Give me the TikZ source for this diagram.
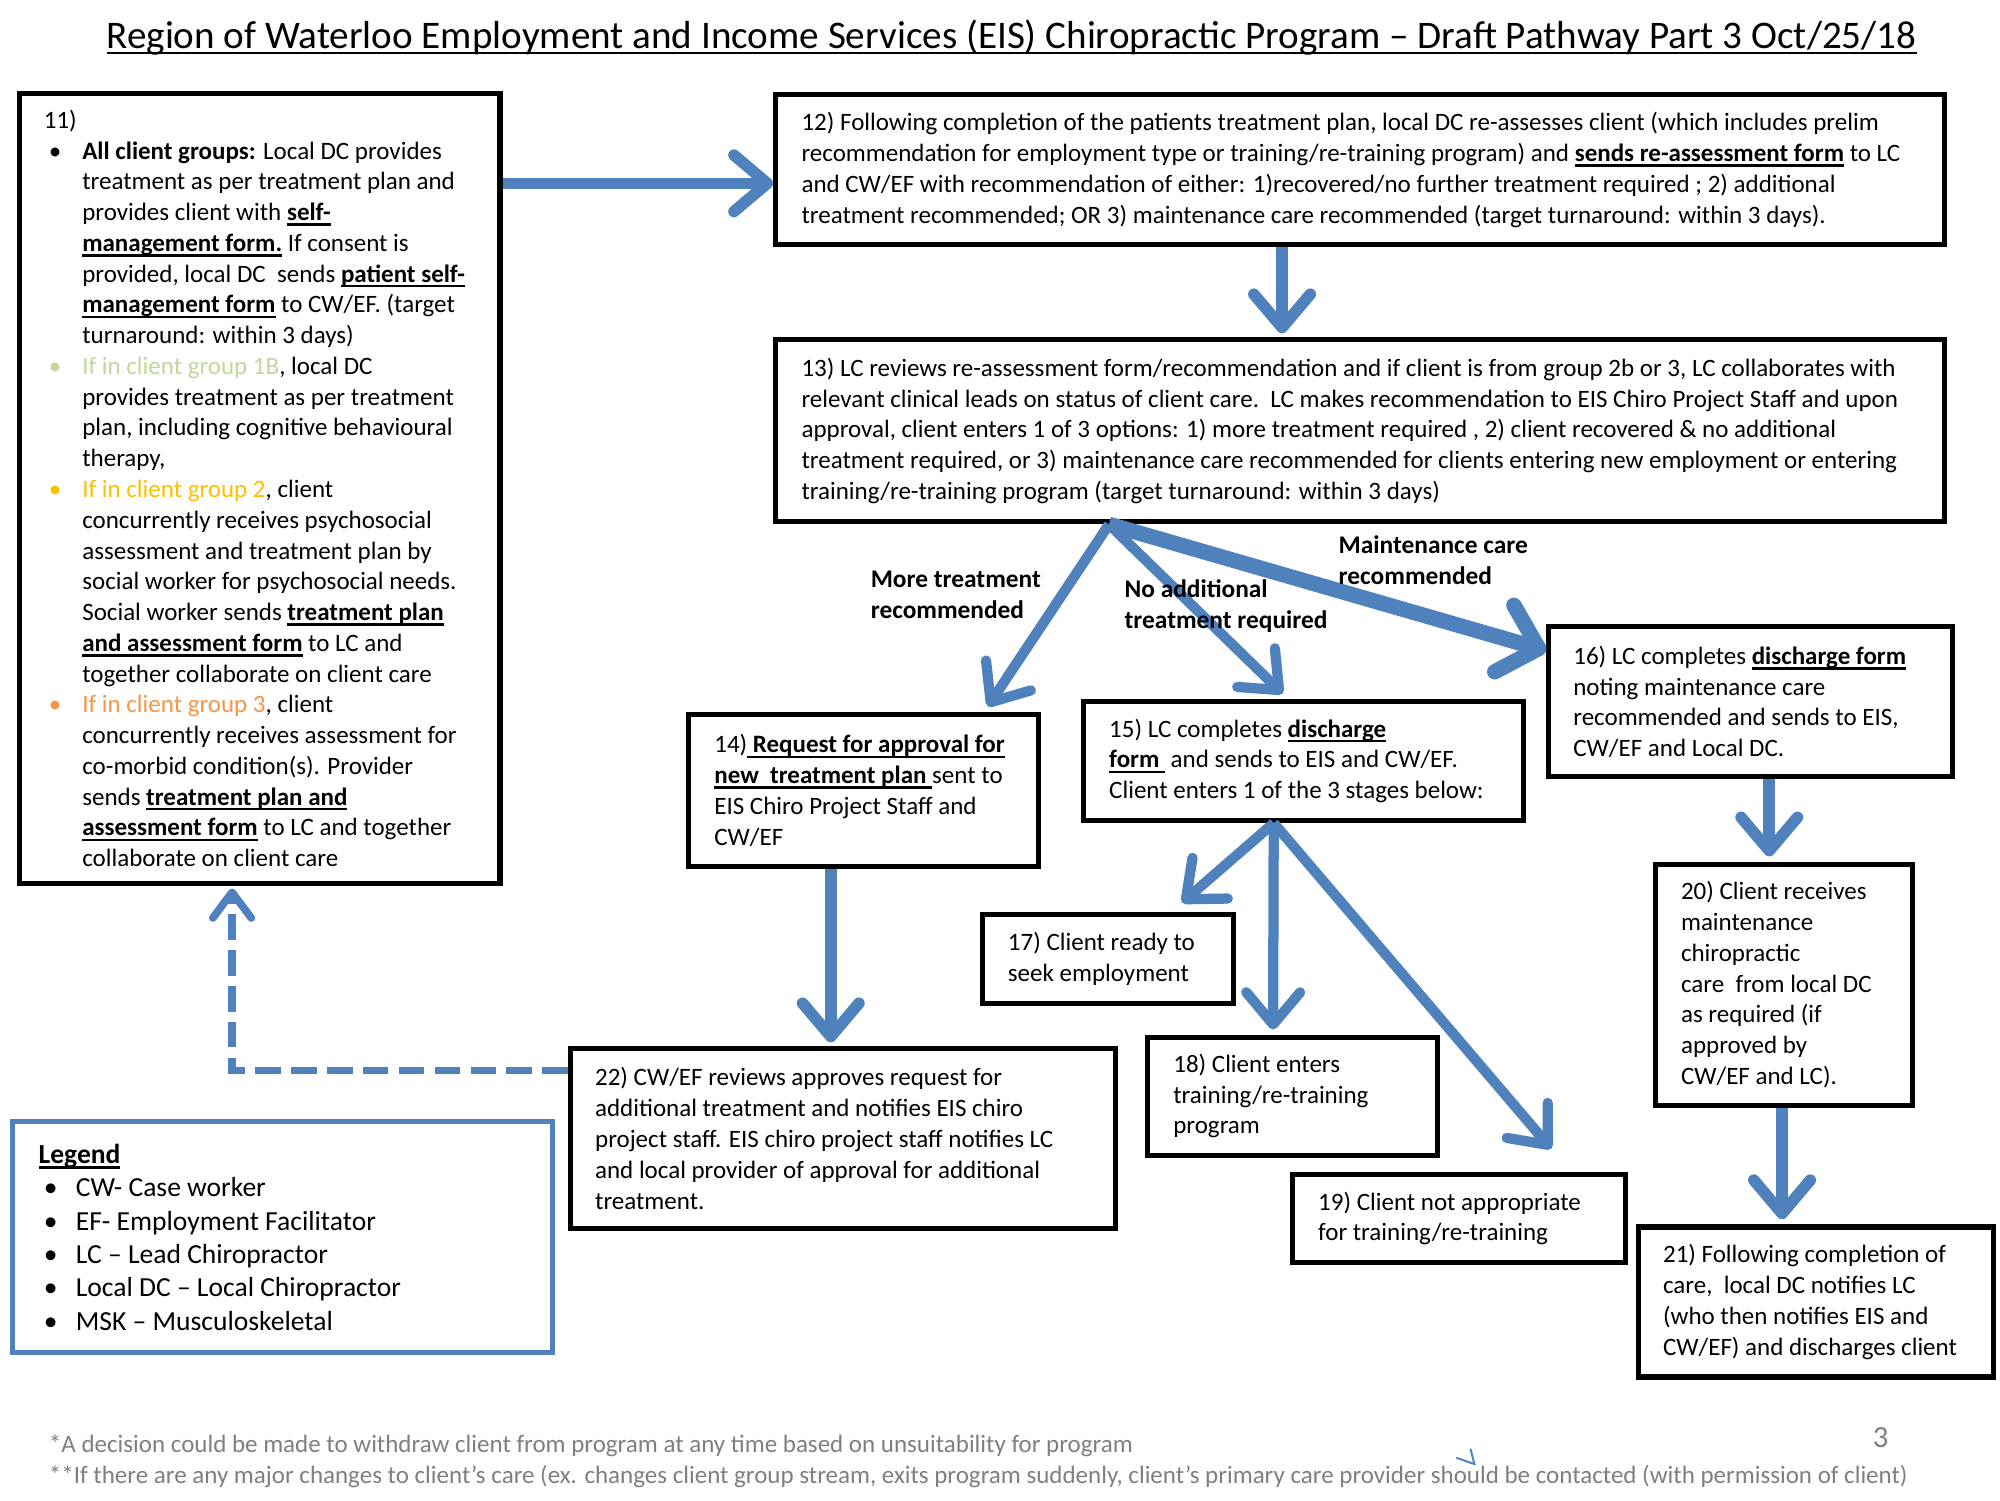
\documentclass[tikz,border=0pt]{standalone}
\usepackage{fontspec}
\setmainfont{Carlito}
\usetikzlibrary{arrows.meta}
\definecolor{ablue}{HTML}{4F81BD}
\definecolor{gA}{HTML}{C3D69B}
\definecolor{gB}{HTML}{FFC000}
\definecolor{gC}{HTML}{F79646}
\definecolor{foot}{HTML}{7F7F7F}
\newcommand{\myul}[1]{\setbox0\hbox{#1}\rlap{\rule[-4pt]{\wd0}{1.8pt}}\box0\relax}
\newcommand{\ub}[1]{\myul{\textbf{#1}}}
\newcommand{\bu}[1]{\hspace*{4pt}\makebox[26pt][l]{\textcolor{#1}{\textbullet}}}
\newcommand{\ind}{\hspace*{30pt}}
\tikzset{
  box/.style={draw=black, line width=4pt, inner sep=0pt},
  txt/.style={align=left, inner sep=0pt, anchor=west, font=\fontsize{19.5}{24}\selectfont},
  lbl/.style={align=left, inner sep=0pt, anchor=west, font=\fontsize{19.8}{24}\selectfont\bfseries},
  arr/.style={draw=ablue, line width=9pt, -{Straight Barb[round,length=26pt,width=44pt]}},
  arrthin/.style={draw=ablue, line width=8pt, -{Straight Barb[round,length=25pt,width=42pt]}},
  arrthick/.style={draw=ablue, line width=12pt, -{Straight Barb[round,length=28pt,width=54pt]}},
  dasharr/.style={draw=ablue, line width=6pt, dash pattern=on 20pt off 8pt, -{Straight Barb[round,length=20pt,width=30pt]}},
}
\begin{document}
\begin{tikzpicture}[x=1pt,y=-1pt]
\useasboundingbox[fill=white] (0,0) rectangle (1560,1170);

% title
\node[inner sep=0pt, anchor=base, font=\fontsize{30.5}{36}\selectfont] (title) at (789,38) {\myul{Region of Waterloo Employment and Income Services (EIS) Chiropractic Program -- Draft Pathway Part 3 Oct/25/18}};

% boxes
\node[box, minimum width=375pt, minimum height=616pt] (b11) at (202.5,381) {};
\node[box, minimum width=912pt, minimum height=117pt] (b12) at (1061,132.5) {};
\node[box, minimum width=912pt, minimum height=142pt] (b13) at (1061,336) {};
\node[box, minimum width=273pt, minimum height=119pt] (b14) at (673.5,616.5) {};
\node[box, minimum width=343pt, minimum height=93pt] (b15) at (1016.5,593.5) {};
\node[box, minimum width=315pt, minimum height=117pt] (b16) at (1365.5,547.5) {};
\node[box, minimum width=196pt, minimum height=70pt] (b17) at (864,748) {};
\node[box, minimum width=226pt, minimum height=92pt] (b18) at (1008,855) {};
\node[box, minimum width=260pt, minimum height=69pt] (b19) at (1138,950.5) {};
\node[box, minimum width=201pt, minimum height=188pt] (b20) at (1391.5,768) {};
\node[box, minimum width=277pt, minimum height=117pt] (b21) at (1416.5,1015.5) {};
\node[box, minimum width=425pt, minimum height=140pt] (b22) at (657.5,888) {};
\node[box, draw=ablue, minimum width=421pt, minimum height=180pt] (leg) at (220.5,965) {};

% texts
\node[txt] (t11) at ([xshift=21pt]b11.west) {11)\\
\bu{black}\textbf{All client groups:} Local DC provides\\
\ind treatment as per treatment plan and\\
\ind provides client with \ub{self-}\\
\ind \ub{management form.} If consent is\\
\ind provided, local DC\ \ sends \ub{patient self-}\\
\ind \ub{management form} to CW/EF. (target\\
\ind turnaround: within 3 days)\\
\bu{gA}\textcolor{gA}{If in client group 1B}, local DC\\
\ind provides treatment as per treatment\\
\ind plan, including cognitive behavioural\\
\ind therapy,\\
\bu{gB}\textcolor{gB}{If in client group 2}, client\\
\ind concurrently receives psychosocial\\
\ind assessment and treatment plan by\\
\ind social worker for psychosocial needs.\\
\ind Social worker sends \ub{treatment plan}\\
\ind \ub{and assessment form} to LC and\\
\ind together collaborate on client care\\
\bu{gC}\textcolor{gC}{If in client group 3}, client\\
\ind concurrently receives assessment for\\
\ind co-morbid condition(s). Provider\\
\ind sends \ub{treatment plan and}\\
\ind \ub{assessment form} to LC and together\\
\ind collaborate on client care};

\node[txt] (t12) at ([xshift=22pt]b12.west) {12) Following completion of the patients treatment plan, local DC re-assesses client (which includes prelim\\
recommendation for employment type or training/re-training program) and \ub{sends re-assessment form} to LC\\
and CW/EF with recommendation of either: 1)recovered/no further treatment required ; 2) additional\\
treatment recommended; OR 3) maintenance care recommended (target turnaround: within 3 days).};

\node[txt] (t13) at ([xshift=22pt]b13.west) {13) LC reviews re-assessment form/recommendation and if client is from group 2b or 3, LC collaborates with\\
relevant clinical leads on status of client care.\ \ LC makes recommendation to EIS Chiro Project Staff and upon\\
approval, client enters 1 of 3 options: 1) more treatment required , 2) client recovered \& no additional\\
treatment required, or 3) maintenance care recommended for clients entering new employment or entering\\
training/re-training program (target turnaround: within 3 days)};

\node[txt] (t14) at ([xshift=22pt]b14.west) {14)\ub{ Request for approval for}\\
\ub{new\ \ treatment plan }sent to\\
EIS Chiro Project Staff and\\
CW/EF};

\node[txt] (t15) at ([xshift=22pt]b15.west) {15) LC completes \ub{discharge}\\
\ub{form\ }\ and sends to EIS and CW/EF.\\
Client enters 1 of the 3 stages below:};

\node[txt] (t16) at ([xshift=21pt]b16.west) {16) LC completes \ub{discharge form}\\
noting maintenance care\\
recommended and sends to EIS,\\
CW/EF and Local DC.};

\node[txt] (t17) at ([xshift=22pt]b17.west) {17) Client ready to\\ seek employment};
\node[txt] (t18) at ([xshift=22pt]b18.west) {18) Client enters\\ training/re-training\\ program};
\node[txt] (t19) at ([xshift=22pt]b19.west) {19) Client not appropriate\\ for training/re-training};
\node[txt] (t20) at ([xshift=22pt]b20.west) {20) Client receives\\ maintenance\\ chiropractic\\ care\ \ from local DC\\ as required (if\\ approved by\\ CW/EF and LC).};
\node[txt] (t21) at ([xshift=21pt]b21.west) {21) Following completion of\\ care,\ \ local DC notifies LC\\ (who then notifies EIS and\\ CW/EF) and discharges client};
\node[txt] (t22) at ([xshift=21pt]b22.west) {22) CW/EF reviews approves request for\\
additional treatment and notifies EIS chiro\\
project staff. EIS chiro project staff notifies LC\\
and local provider of approval for additional\\
treatment.};

\node[txt, font=\fontsize{21.5}{26}\selectfont] (tleg) at ([xshift=22pt]leg.west) {\ub{Legend}\\
\hspace*{4pt}\makebox[25pt][l]{\textbullet}CW- Case worker\\
\hspace*{4pt}\makebox[25pt][l]{\textbullet}EF- Employment Facilitator\\
\hspace*{4pt}\makebox[25pt][l]{\textbullet}LC -- Lead Chiropractor\\
\hspace*{4pt}\makebox[25pt][l]{\textbullet}Local DC -- Local Chiropractor\\
\hspace*{4pt}\makebox[25pt][l]{\textbullet}MSK -- Musculoskeletal};

% connectors
\coordinate (s13) at ([xshift=-196pt]b13.south);
\coordinate (s15) at ([xshift=-23pt]b15.south);
\draw[arr] (b11.east |- 0,143) -- ([yshift=-10.5pt]b12.west);
\draw[arr] ([xshift=-61pt]b12.south) -- ([xshift=-61pt,yshift=3pt]b13.north);
\draw[arrthin] (s13) -- ([xshift=97pt,yshift=4pt]b14.north);
\draw[arrthin] (s13) -- ([xshift=-16pt,yshift=4pt]b15.north);
\draw[arrthick] (s13) -- ([yshift=40pt]b16.west);
\draw[arr] ([xshift=-25.5pt]b14.south) -- ([xshift=-9.5pt,yshift=3pt]b22.north);
\draw[arrthin] (s15) -- ([xshift=58pt,yshift=7pt]b17.north);
\draw[arrthin] (s15) -- ([xshift=-15pt,yshift=4pt]b18.north);
\draw[arrthin] (s15) -- ([xshift=72pt,yshift=18pt]b19.north);
\draw[arr] ([xshift=14.5pt]b16.south) -- ([xshift=-11.5pt,yshift=4pt]b20.north);
\draw[arr] ([xshift=-1.5pt]b20.south) -- ([xshift=-26.5pt,yshift=4pt]b21.north);
\draw[dasharr] ([yshift=53pt]b22.west) -| ([xshift=-21.5pt,yshift=-2pt]b11.south);

% arrow labels (drawn over the arrows)
\node[lbl] (l14) at (679,464) {More treatment\\recommended};
\node[lbl] (l15) at (877,473) {No additional\\treatment required};
\node[lbl] (l16) at (1044,437) {Maintenance care\\recommended};

% footer
\node[txt, text=foot, font=\fontsize{19.5}{24}\selectfont] (f1) at (38,1128) {*A decision could be made to withdraw client from program at any time based on unsuitability for program};
\node[txt, text=foot, font=\fontsize{19.5}{24}\selectfont] (f2) at (38,1152) {**If there are any major changes to client’s care (ex. changes client group stream, exits program suddenly, client’s primary care provider should be contacted (with permission of client)};
\node[inner sep=0pt, text=foot, font=\fontsize{24}{28}\selectfont] (pg) at (1467,1121) {3};
\draw[ablue, line width=1.5pt] (1136,1137) -- (1150,1142) -- (1147,1130);
\end{tikzpicture}
\end{document}
